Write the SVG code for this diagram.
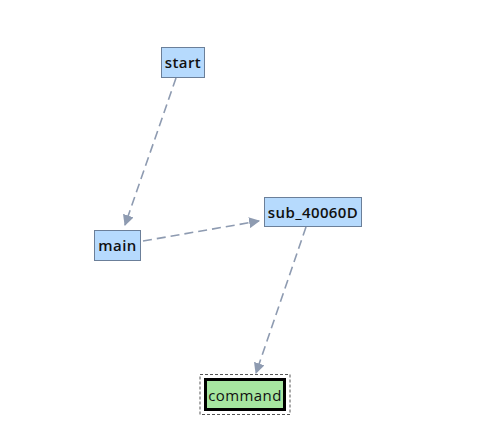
<svg xmlns="http://www.w3.org/2000/svg" width="486" height="434" viewBox="0 0 486 434">
<defs>
<marker id="ah" viewBox="0 0 10 10" refX="9" refY="5" markerWidth="11" markerHeight="11" markerUnits="userSpaceOnUse" orient="auto">
<path d="M0,0 L10,5 L0,10 z" fill="#8e9bb1"/>
</marker>
<style>
.n{fill:#b6dafd;stroke:#6b7f99;stroke-width:1}
.t{font-family:"Open Sans","Liberation Sans",sans-serif;font-size:15px;font-weight:600;letter-spacing:0.4px;fill:#111;text-anchor:middle}
.e{fill:none;stroke:#8e9bb1;stroke-width:1.6;stroke-dasharray:9,5;marker-end:url(#ah)}
</style>
</defs>
<rect width="486" height="434" fill="#ffffff"/>
<g id="edges">
<line class="e" x1="176" y1="78" x2="125" y2="225"/>
<line class="e" x1="143" y1="241" x2="259" y2="221"/>
<line class="e" x1="306" y1="227" x2="256" y2="373"/>
</g>
<g id="start">
<rect class="n" x="161.5" y="47.5" width="43" height="30"/>
<text class="t" x="183" y="68">start</text>
</g>
<g id="main">
<rect class="n" x="94.5" y="230.5" width="46" height="30"/>
<text class="t" x="117.5" y="251">main</text>
</g>
<g id="sub_40060D">
<rect class="n" x="264.5" y="197.5" width="97" height="29"/>
<text class="t" x="313" y="217.5">sub_40060D</text>
</g>
<g id="command">
<rect x="200" y="374.5" width="90" height="40" fill="#ffffff" stroke="#555" stroke-width="1" stroke-dasharray="3,2"/>
<rect x="205.5" y="379.5" width="79" height="30" fill="#a6e6a0" stroke="#000" stroke-width="3"/>
<text x="245" y="400.5" font-family="'Open Sans','Liberation Sans',sans-serif" font-size="15" letter-spacing="0.4" fill="#111" text-anchor="middle">command</text>
</g>
</svg>
